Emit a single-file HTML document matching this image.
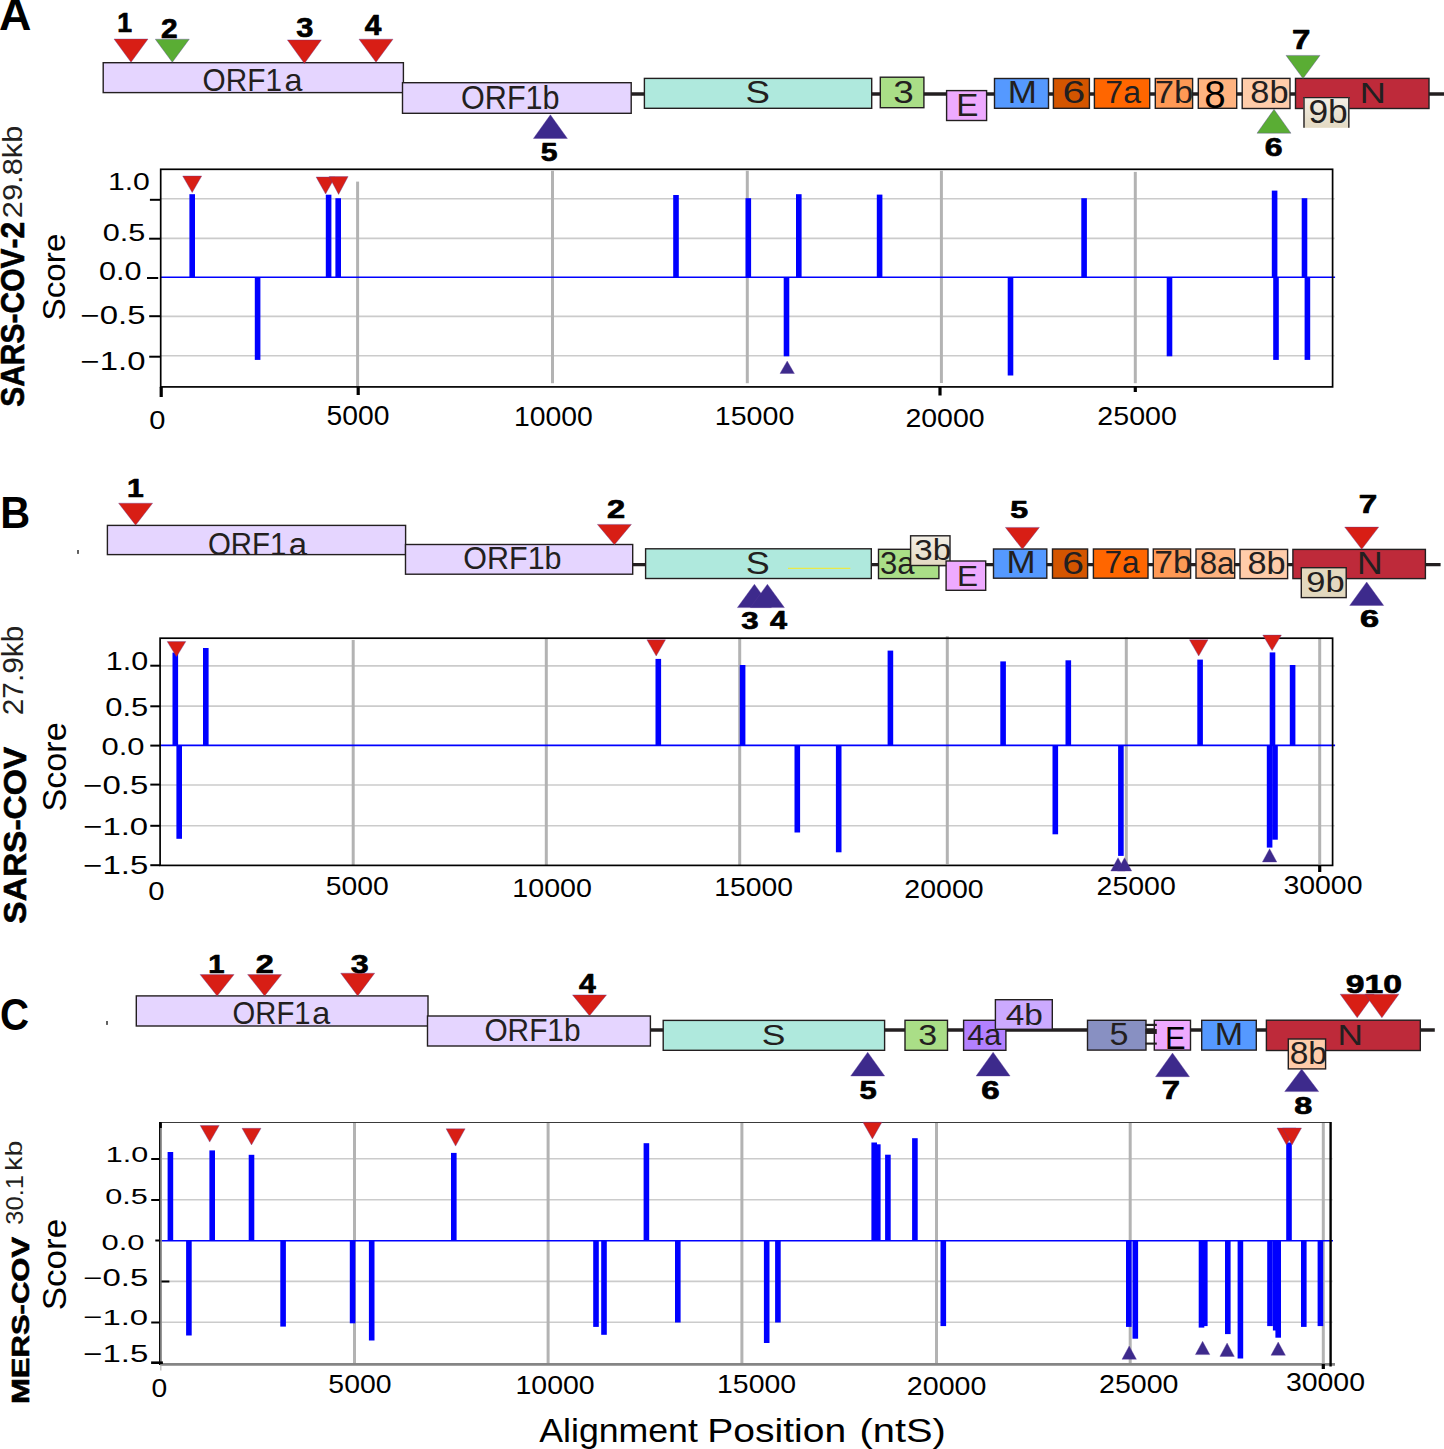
<!DOCTYPE html>
<html><head><meta charset="utf-8"><style>
html,body{margin:0;padding:0;background:#fff;width:1444px;height:1449px;overflow:hidden}
svg{display:block;font-family:"Liberation Sans", sans-serif;font-kerning:none}
</style></head><body>
<svg width="1444" height="1449" viewBox="0 0 1444 1449">
<defs><linearGradient id="beige" x1="0" y1="0" x2="0" y2="1"><stop offset="0" stop-color="#f3efe6"/><stop offset="1" stop-color="#e3d9c2"/></linearGradient></defs>
<rect width="1444" height="1449" fill="#fff"/>
<text x="-1.12" y="29.80" font-size="44.04" font-weight="bold" fill="#000" textLength="32.40" lengthAdjust="spacingAndGlyphs">A</text>
<text x="0.22" y="527.80" font-size="44.04" font-weight="bold" fill="#000" textLength="29.96" lengthAdjust="spacingAndGlyphs">B</text>
<text x="0.05" y="1030.47" font-size="43.64" font-weight="bold" fill="#000" textLength="29.05" lengthAdjust="spacingAndGlyphs">C</text>
<rect x="77.1" y="550" width="1.8" height="3.9" fill="#505050"/>
<rect x="106.1" y="1021" width="1.8" height="3.9" fill="#505050"/>
<line x1="403.00" y1="94.10" x2="1444.00" y2="94.10" stroke="#231f20" stroke-width="3.5"/>
<rect x="103.20" y="62.70" width="300.20" height="29.90" fill="#e5d5ff" stroke="#231f20" stroke-width="1.4"/>
<text x="202.59" y="90.99" font-size="31.78" fill="#231f20" textLength="79.36" lengthAdjust="spacingAndGlyphs">ORF1</text>
<text x="284.53" y="90.99" font-size="31.78" fill="#231f20" textLength="17.97" lengthAdjust="spacingAndGlyphs">a</text>
<rect x="402.50" y="82.70" width="228.70" height="30.60" fill="#e5d5ff" stroke="#231f20" stroke-width="1.4"/>
<text x="461.05" y="108.68" font-size="33.23" fill="#231f20" textLength="98.53" lengthAdjust="spacingAndGlyphs">ORF1b</text>
<rect x="644.40" y="78.40" width="227.30" height="29.90" fill="#afe9dd" stroke="#231f20" stroke-width="1.4"/>
<text x="745.44" y="103.40" font-size="30.51" fill="#231f20" textLength="24.45" lengthAdjust="spacingAndGlyphs">S</text>
<rect x="880.30" y="77.20" width="43.60" height="30.50" fill="#aade87" stroke="#231f20" stroke-width="1.4"/>
<text x="893.29" y="102.90" font-size="30.51" fill="#231f20" textLength="20.53" lengthAdjust="spacingAndGlyphs">3</text>
<rect x="946.60" y="90.60" width="40.00" height="29.90" fill="#eeaaff" stroke="#231f20" stroke-width="1.4"/>
<text x="956.28" y="115.80" font-size="31.25" fill="#231f20" textLength="22.15" lengthAdjust="spacingAndGlyphs">E</text>
<rect x="994.50" y="78.50" width="54.00" height="29.80" fill="#5599ff" stroke="#231f20" stroke-width="1.4"/>
<text x="1007.83" y="103.20" font-size="31.40" fill="#231f20" textLength="29.14" lengthAdjust="spacingAndGlyphs">M</text>
<rect x="1053.40" y="78.50" width="36.00" height="29.80" fill="#d45500" stroke="#231f20" stroke-width="1.4"/>
<text x="1062.62" y="103.39" font-size="31.78" fill="#231f20" textLength="22.78" lengthAdjust="spacingAndGlyphs">6</text>
<rect x="1094.40" y="78.50" width="55.30" height="29.80" fill="#ff6600" stroke="#231f20" stroke-width="1.4"/>
<text x="1105.36" y="103.39" font-size="32.25" fill="#231f20" textLength="35.54" lengthAdjust="spacingAndGlyphs">7a</text>
<rect x="1155.30" y="78.50" width="37.30" height="29.80" fill="#ff9955" stroke="#231f20" stroke-width="1.4"/>
<text x="1154.73" y="103.39" font-size="31.86" fill="#231f20" textLength="38.42" lengthAdjust="spacingAndGlyphs">7b</text>
<rect x="1198.30" y="78.50" width="38.40" height="29.80" fill="#ffb380" stroke="#231f20" stroke-width="1.4"/>
<text x="1204.32" y="107.83" font-size="38.14" fill="#000" textLength="21.45" lengthAdjust="spacingAndGlyphs">8</text>
<rect x="1242.20" y="78.40" width="47.80" height="30.10" fill="#ffccaa" stroke="#231f20" stroke-width="1.4"/>
<text x="1250.31" y="102.90" font-size="30.91" fill="#231f20" textLength="38.24" lengthAdjust="spacingAndGlyphs">8b</text>
<rect x="1295.50" y="78.40" width="133.50" height="30.10" fill="#be2a3a" stroke="#231f20" stroke-width="1.4"/>
<text x="1359.83" y="102.80" font-size="30.38" fill="#231f20" textLength="26.12" lengthAdjust="spacingAndGlyphs">N</text>
<rect x="1303.7" y="97.3" width="45.4" height="30.5" fill="url(#beige)"/>
<line x1="1303.00" y1="97.60" x2="1349.80" y2="97.60" stroke="#231f20" stroke-width="1.3"/>
<line x1="1304.00" y1="97.00" x2="1304.00" y2="127.80" stroke="#3a3636" stroke-width="1.6"/>
<line x1="1348.80" y1="97.00" x2="1348.80" y2="127.80" stroke="#3a3636" stroke-width="1.6"/>
<text x="1308.44" y="122.68" font-size="32.41" fill="#231f20" textLength="39.34" lengthAdjust="spacingAndGlyphs">9b</text>
<polygon points="114.00,39.00 148.00,39.00 131.00,62.30" fill="#d81e15" stroke="#5b3a9a" stroke-width="0.6" stroke-opacity="0.6"/>
<polygon points="155.30,39.20 189.30,39.20 172.30,62.30" fill="#5aad34" stroke="#5b3a9a" stroke-width="0.6" stroke-opacity="0.6"/>
<polygon points="287.40,39.90 321.40,39.90 304.40,63.60" fill="#d81e15" stroke="#5b3a9a" stroke-width="0.6" stroke-opacity="0.6"/>
<polygon points="359.00,39.20 393.00,39.20 376.00,62.30" fill="#d81e15" stroke="#5b3a9a" stroke-width="0.6" stroke-opacity="0.6"/>
<polygon points="1286.00,55.40 1320.00,55.40 1303.00,78.60" fill="#5aad34" stroke="#5b3a9a" stroke-width="0.6" stroke-opacity="0.6"/>
<polygon points="533.40,138.50 567.40,138.50 550.40,114.80" fill="#3d2a8c" stroke="#5b3a9a" stroke-width="0.6" stroke-opacity="0.6"/>
<polygon points="1257.00,133.20 1291.00,133.20 1274.00,109.30" fill="#5aad34" stroke="#5b3a9a" stroke-width="0.6" stroke-opacity="0.6"/>
<line x1="405.00" y1="564.70" x2="1440.60" y2="564.70" stroke="#231f20" stroke-width="3.3"/>
<rect x="107.40" y="525.40" width="298.20" height="29.20" fill="#e5d5ff" stroke="#231f20" stroke-width="1.4"/>
<text x="207.91" y="555.20" font-size="31.21" fill="#231f20" textLength="78.53" lengthAdjust="spacingAndGlyphs">ORF1</text>
<text x="288.80" y="555.20" font-size="31.21" fill="#231f20" textLength="18.30" lengthAdjust="spacingAndGlyphs">a</text>
<rect x="405.50" y="544.50" width="227.20" height="29.70" fill="#e5d5ff" stroke="#231f20" stroke-width="1.4"/>
<text x="463.36" y="569.40" font-size="31.18" fill="#231f20" textLength="98.22" lengthAdjust="spacingAndGlyphs">ORF1b</text>
<rect x="645.60" y="548.80" width="225.70" height="29.70" fill="#afe9dd" stroke="#231f20" stroke-width="1.4"/>
<text x="745.87" y="573.80" font-size="30.51" fill="#231f20" textLength="23.98" lengthAdjust="spacingAndGlyphs">S</text>
<line x1="788.00" y1="568.40" x2="850.30" y2="568.40" stroke="#e9e94a" stroke-width="1.3"/>
<rect x="878.50" y="549.30" width="60.40" height="29.30" fill="#aade87" stroke="#231f20" stroke-width="1.4"/>
<text x="880.02" y="573.80" font-size="30.51" fill="#231f20" textLength="34.58" lengthAdjust="spacingAndGlyphs">3a</text>
<rect x="910.60" y="535.80" width="39.40" height="29.70" fill="url(#beige)" stroke="#231f20" stroke-width="1.4"/>
<text x="914.24" y="560.31" font-size="29.41" fill="#231f20" textLength="36.85" lengthAdjust="spacingAndGlyphs">3b</text>
<rect x="946.10" y="561.00" width="39.60" height="29.30" fill="#eeaaff" stroke="#231f20" stroke-width="1.4"/>
<text x="957.01" y="585.80" font-size="30.09" fill="#231f20" textLength="21.04" lengthAdjust="spacingAndGlyphs">E</text>
<rect x="993.50" y="549.00" width="53.30" height="29.20" fill="#5599ff" stroke="#231f20" stroke-width="1.4"/>
<text x="1006.43" y="573.30" font-size="30.67" fill="#231f20" textLength="29.14" lengthAdjust="spacingAndGlyphs">M</text>
<rect x="1052.50" y="549.00" width="35.10" height="29.20" fill="#d45500" stroke="#231f20" stroke-width="1.4"/>
<text x="1062.22" y="573.50" font-size="31.21" fill="#231f20" textLength="21.70" lengthAdjust="spacingAndGlyphs">6</text>
<rect x="1093.40" y="549.00" width="54.60" height="29.20" fill="#ff6600" stroke="#231f20" stroke-width="1.4"/>
<text x="1104.38" y="573.49" font-size="31.67" fill="#231f20" textLength="35.12" lengthAdjust="spacingAndGlyphs">7a</text>
<rect x="1153.30" y="549.00" width="37.30" height="29.20" fill="#ff9955" stroke="#231f20" stroke-width="1.4"/>
<text x="1154.27" y="573.49" font-size="31.32" fill="#231f20" textLength="37.44" lengthAdjust="spacingAndGlyphs">7b</text>
<rect x="1196.00" y="549.00" width="38.70" height="29.20" fill="#ffb380" stroke="#231f20" stroke-width="1.4"/>
<text x="1199.64" y="573.50" font-size="31.21" fill="#231f20" textLength="34.76" lengthAdjust="spacingAndGlyphs">8a</text>
<rect x="1240.00" y="549.40" width="47.60" height="29.20" fill="#ffccaa" stroke="#231f20" stroke-width="1.4"/>
<text x="1247.51" y="573.99" font-size="31.46" fill="#231f20" textLength="38.24" lengthAdjust="spacingAndGlyphs">8b</text>
<rect x="1292.90" y="549.40" width="132.50" height="29.20" fill="#be2a3a" stroke="#231f20" stroke-width="1.4"/>
<text x="1356.98" y="573.90" font-size="31.54" fill="#231f20" textLength="25.73" lengthAdjust="spacingAndGlyphs">N</text>
<rect x="1301.30" y="567.70" width="44.90" height="29.90" fill="#e3d9bf" stroke="#231f20" stroke-width="1.4"/>
<text x="1306.38" y="592.30" font-size="30.37" fill="#231f20" textLength="38.37" lengthAdjust="spacingAndGlyphs">9b</text>
<polygon points="118.60,503.20 152.60,503.20 135.60,525.20" fill="#d81e15" stroke="#5b3a9a" stroke-width="0.6" stroke-opacity="0.6"/>
<polygon points="597.40,524.40 631.40,524.40 614.40,544.80" fill="#d81e15" stroke="#5b3a9a" stroke-width="0.6" stroke-opacity="0.6"/>
<polygon points="1005.40,527.40 1039.40,527.40 1022.40,549.30" fill="#d81e15" stroke="#5b3a9a" stroke-width="0.6" stroke-opacity="0.6"/>
<polygon points="1344.70,527.10 1378.70,527.10 1361.70,549.30" fill="#d81e15" stroke="#5b3a9a" stroke-width="0.6" stroke-opacity="0.6"/>
<polygon points="737.40,607.60 771.40,607.60 754.40,584.20" fill="#3d2a8c" stroke="#5b3a9a" stroke-width="0.6" stroke-opacity="0.6"/>
<polygon points="750.40,607.60 784.40,607.60 767.40,584.20" fill="#3d2a8c" stroke="#5b3a9a" stroke-width="0.6" stroke-opacity="0.6"/>
<polygon points="1349.70,605.50 1383.70,605.50 1366.70,582.00" fill="#3d2a8c" stroke="#5b3a9a" stroke-width="0.6" stroke-opacity="0.6"/>
<line x1="428.00" y1="1030.00" x2="1434.80" y2="1030.00" stroke="#231f20" stroke-width="3.3"/>
<rect x="136.30" y="995.90" width="291.70" height="30.10" fill="#e5d5ff" stroke="#231f20" stroke-width="1.4"/>
<text x="232.62" y="1024.29" font-size="31.64" fill="#231f20" textLength="77.91" lengthAdjust="spacingAndGlyphs">ORF1</text>
<text x="312.23" y="1024.29" font-size="31.64" fill="#231f20" textLength="17.97" lengthAdjust="spacingAndGlyphs">a</text>
<rect x="427.50" y="1016.00" width="222.90" height="30.00" fill="#e5d5ff" stroke="#231f20" stroke-width="1.4"/>
<text x="484.39" y="1041.19" font-size="31.86" fill="#231f20" textLength="96.17" lengthAdjust="spacingAndGlyphs">ORF1b</text>
<rect x="663.20" y="1020.40" width="221.40" height="29.90" fill="#afe9dd" stroke="#231f20" stroke-width="1.4"/>
<text x="761.69" y="1045.20" font-size="30.37" fill="#231f20" textLength="23.64" lengthAdjust="spacingAndGlyphs">S</text>
<rect x="905.00" y="1020.30" width="42.50" height="30.00" fill="#aade87" stroke="#231f20" stroke-width="1.4"/>
<text x="918.31" y="1044.51" font-size="29.38" fill="#231f20" textLength="18.89" lengthAdjust="spacingAndGlyphs">3</text>
<rect x="963.60" y="1020.30" width="42.30" height="30.00" fill="#b380ff" stroke="#231f20" stroke-width="1.4"/>
<text x="967.20" y="1044.51" font-size="29.81" fill="#231f20" textLength="34.00" lengthAdjust="spacingAndGlyphs">4a</text>
<rect x="995.40" y="999.70" width="56.90" height="29.60" fill="#ccaaff" stroke="#231f20" stroke-width="1.4"/>
<text x="1005.73" y="1024.81" font-size="29.28" fill="#231f20" textLength="37.17" lengthAdjust="spacingAndGlyphs">4b</text>
<rect x="1087.50" y="1020.30" width="58.50" height="29.80" fill="#8890c2" stroke="#231f20" stroke-width="1.4"/>
<text x="1109.53" y="1044.99" font-size="31.67" fill="#231f20" textLength="19.00" lengthAdjust="spacingAndGlyphs">5</text>
<rect x="1154.30" y="1020.30" width="36.20" height="29.80" fill="#eeaaff" stroke="#231f20" stroke-width="1.4"/>
<text x="1164.97" y="1049.20" font-size="32.12" fill="#000" textLength="20.55" lengthAdjust="spacingAndGlyphs">E</text>
<line x1="1145.50" y1="1024.90" x2="1156.80" y2="1024.90" stroke="#231f20" stroke-width="2.2"/>
<line x1="1145.50" y1="1031.50" x2="1156.80" y2="1031.50" stroke="#231f20" stroke-width="4.9"/>
<line x1="1145.50" y1="1043.60" x2="1156.80" y2="1043.60" stroke="#231f20" stroke-width="2.1"/>
<rect x="1201.70" y="1020.30" width="54.60" height="29.80" fill="#5599ff" stroke="#231f20" stroke-width="1.4"/>
<text x="1214.70" y="1045.30" font-size="31.25" fill="#231f20" textLength="28.39" lengthAdjust="spacingAndGlyphs">M</text>
<rect x="1266.40" y="1020.20" width="153.90" height="30.30" fill="#be2a3a" stroke="#231f20" stroke-width="1.4"/>
<text x="1337.41" y="1044.70" font-size="30.38" fill="#231f20" textLength="25.47" lengthAdjust="spacingAndGlyphs">N</text>
<rect x="1288.30" y="1039.00" width="37.30" height="29.90" fill="#ffccaa" stroke="#231f20" stroke-width="1.4"/>
<text x="1289.74" y="1063.90" font-size="30.77" fill="#231f20" textLength="37.26" lengthAdjust="spacingAndGlyphs">8b</text>
<polygon points="200.10,974.60 234.10,974.60 217.10,995.90" fill="#d81e15" stroke="#5b3a9a" stroke-width="0.6" stroke-opacity="0.6"/>
<polygon points="247.60,974.60 281.60,974.60 264.60,995.90" fill="#d81e15" stroke="#5b3a9a" stroke-width="0.6" stroke-opacity="0.6"/>
<polygon points="340.70,973.20 374.70,973.20 357.70,995.90" fill="#d81e15" stroke="#5b3a9a" stroke-width="0.6" stroke-opacity="0.6"/>
<polygon points="572.50,994.90 606.50,994.90 589.50,1015.80" fill="#d81e15" stroke="#5b3a9a" stroke-width="0.6" stroke-opacity="0.6"/>
<polygon points="1340.20,994.20 1374.20,994.20 1357.20,1017.80" fill="#d81e15" stroke="#5b3a9a" stroke-width="0.6" stroke-opacity="0.6"/>
<polygon points="1364.90,994.20 1398.90,994.20 1381.90,1017.80" fill="#d81e15" stroke="#5b3a9a" stroke-width="0.6" stroke-opacity="0.6"/>
<polygon points="850.70,1076.00 884.70,1076.00 867.70,1052.20" fill="#3d2a8c" stroke="#5b3a9a" stroke-width="0.6" stroke-opacity="0.6"/>
<polygon points="976.10,1076.00 1010.10,1076.00 993.10,1052.20" fill="#3d2a8c" stroke="#5b3a9a" stroke-width="0.6" stroke-opacity="0.6"/>
<polygon points="1155.50,1076.70 1189.50,1076.70 1172.50,1053.00" fill="#3d2a8c" stroke="#5b3a9a" stroke-width="0.6" stroke-opacity="0.6"/>
<polygon points="1284.70,1091.60 1318.70,1091.60 1301.70,1069.00" fill="#3d2a8c" stroke="#5b3a9a" stroke-width="0.6" stroke-opacity="0.6"/>
<g stroke="#000" stroke-width="0.7" stroke-linejoin="round">
<text x="117.22" y="31.90" font-size="27.76" font-weight="bold" fill="#000" textLength="14.82" lengthAdjust="spacingAndGlyphs">1</text>
<text x="161.06" y="37.70" font-size="27.78" font-weight="bold" fill="#000" textLength="16.63" lengthAdjust="spacingAndGlyphs">2</text>
<text x="296.19" y="36.68" font-size="28.33" font-weight="bold" fill="#000" textLength="17.12" lengthAdjust="spacingAndGlyphs">3</text>
<text x="364.65" y="34.60" font-size="28.78" font-weight="bold" fill="#000" textLength="16.61" lengthAdjust="spacingAndGlyphs">4</text>
<text x="540.67" y="161.25" font-size="25.80" font-weight="bold" fill="#000" textLength="16.77" lengthAdjust="spacingAndGlyphs">5</text>
<text x="1264.83" y="155.64" font-size="26.41" font-weight="bold" fill="#000" textLength="17.83" lengthAdjust="spacingAndGlyphs">6</text>
<text x="1291.98" y="49.40" font-size="27.47" font-weight="bold" fill="#000" textLength="18.37" lengthAdjust="spacingAndGlyphs">7</text>
<text x="127.10" y="497.20" font-size="25.73" font-weight="bold" fill="#000" textLength="16.73" lengthAdjust="spacingAndGlyphs">1</text>
<text x="607.07" y="517.90" font-size="25.06" font-weight="bold" fill="#000" textLength="18.14" lengthAdjust="spacingAndGlyphs">2</text>
<text x="741.18" y="628.82" font-size="24.67" font-weight="bold" fill="#000" textLength="17.34" lengthAdjust="spacingAndGlyphs">3</text>
<text x="769.94" y="629.10" font-size="25.44" font-weight="bold" fill="#000" textLength="17.03" lengthAdjust="spacingAndGlyphs">4</text>
<text x="1010.21" y="517.67" font-size="23.93" font-weight="bold" fill="#000" textLength="17.88" lengthAdjust="spacingAndGlyphs">5</text>
<text x="1359.94" y="626.57" font-size="23.45" font-weight="bold" fill="#000" textLength="19.10" lengthAdjust="spacingAndGlyphs">6</text>
<text x="1358.87" y="512.70" font-size="25.44" font-weight="bold" fill="#000" textLength="18.49" lengthAdjust="spacingAndGlyphs">7</text>
<text x="208.26" y="973.20" font-size="25.73" font-weight="bold" fill="#000" textLength="16.25" lengthAdjust="spacingAndGlyphs">1</text>
<text x="255.88" y="973.20" font-size="26.07" font-weight="bold" fill="#000" textLength="18.02" lengthAdjust="spacingAndGlyphs">2</text>
<text x="350.66" y="972.91" font-size="25.65" font-weight="bold" fill="#000" textLength="17.90" lengthAdjust="spacingAndGlyphs">3</text>
<text x="579.14" y="992.90" font-size="27.91" font-weight="bold" fill="#000" textLength="16.82" lengthAdjust="spacingAndGlyphs">4</text>
<text x="859.55" y="1098.85" font-size="26.08" font-weight="bold" fill="#000" textLength="17.21" lengthAdjust="spacingAndGlyphs">5</text>
<text x="981.39" y="1098.85" font-size="25.71" font-weight="bold" fill="#000" textLength="18.41" lengthAdjust="spacingAndGlyphs">6</text>
<text x="1161.89" y="1099.10" font-size="26.45" font-weight="bold" fill="#000" textLength="18.25" lengthAdjust="spacingAndGlyphs">7</text>
<text x="1294.37" y="1113.76" font-size="24.72" font-weight="bold" fill="#000" textLength="18.03" lengthAdjust="spacingAndGlyphs">8</text>
<text x="1345.83" y="992.65" font-size="25.99" font-weight="bold" fill="#000" textLength="56.15" lengthAdjust="spacingAndGlyphs">910</text>
</g>
<line x1="160.70" y1="198.70" x2="1334.60" y2="198.70" stroke="#cbcbcb" stroke-width="1.6"/>
<line x1="160.70" y1="238.40" x2="1334.60" y2="238.40" stroke="#cbcbcb" stroke-width="1.6"/>
<line x1="160.70" y1="316.40" x2="1334.60" y2="316.40" stroke="#cbcbcb" stroke-width="1.6"/>
<line x1="160.70" y1="355.80" x2="1334.60" y2="355.80" stroke="#cbcbcb" stroke-width="1.6"/>
<line x1="357.60" y1="181.60" x2="357.60" y2="386.00" stroke="#b3b3b3" stroke-width="3.0"/>
<line x1="552.50" y1="170.80" x2="552.50" y2="383.20" stroke="#b3b3b3" stroke-width="3.0"/>
<line x1="747.30" y1="170.80" x2="747.30" y2="383.20" stroke="#b3b3b3" stroke-width="3.0"/>
<line x1="941.40" y1="170.80" x2="941.40" y2="383.00" stroke="#b3b3b3" stroke-width="3.0"/>
<line x1="1135.30" y1="171.90" x2="1135.30" y2="383.20" stroke="#b3b3b3" stroke-width="3.0"/>
<line x1="160.70" y1="277.30" x2="1335.10" y2="277.30" stroke="#0000ff" stroke-width="1.6"/>
<rect x="189.40" y="194.20" width="5.6" height="83.10" fill="#0000ff"/>
<rect x="325.80" y="194.70" width="5.6" height="82.60" fill="#0000ff"/>
<rect x="335.40" y="198.20" width="5.6" height="79.10" fill="#0000ff"/>
<rect x="673.20" y="195.00" width="5.6" height="82.30" fill="#0000ff"/>
<rect x="745.50" y="198.20" width="5.6" height="79.10" fill="#0000ff"/>
<rect x="796.00" y="194.20" width="5.6" height="83.10" fill="#0000ff"/>
<rect x="876.80" y="194.60" width="5.6" height="82.70" fill="#0000ff"/>
<rect x="1081.30" y="198.20" width="5.6" height="79.10" fill="#0000ff"/>
<rect x="1271.80" y="190.60" width="5.6" height="86.70" fill="#0000ff"/>
<rect x="1301.70" y="198.20" width="5.6" height="79.10" fill="#0000ff"/>
<rect x="254.80" y="277.30" width="5.6" height="82.60" fill="#0000ff"/>
<rect x="783.70" y="277.30" width="5.6" height="79.00" fill="#0000ff"/>
<rect x="1007.70" y="277.30" width="5.6" height="98.20" fill="#0000ff"/>
<rect x="1166.70" y="277.30" width="5.6" height="79.00" fill="#0000ff"/>
<rect x="1273.20" y="277.30" width="5.6" height="82.60" fill="#0000ff"/>
<rect x="1304.60" y="277.30" width="5.6" height="82.60" fill="#0000ff"/>
<rect x="160.70" y="169.30" width="1171.90" height="217.60" fill="none" stroke="#000" stroke-width="1.7"/>
<line x1="149.90" y1="199.80" x2="160.70" y2="199.80" stroke="#000" stroke-width="2"/>
<line x1="149.10" y1="238.70" x2="160.70" y2="238.70" stroke="#000" stroke-width="2"/>
<line x1="147.00" y1="278.00" x2="158.20" y2="278.00" stroke="#000" stroke-width="2"/>
<line x1="149.20" y1="316.20" x2="161.00" y2="316.20" stroke="#000" stroke-width="2"/>
<line x1="149.20" y1="356.70" x2="161.00" y2="356.70" stroke="#000" stroke-width="2"/>
<line x1="161.20" y1="386.90" x2="161.20" y2="397.00" stroke="#000" stroke-width="3.2"/>
<line x1="358.20" y1="386.90" x2="358.20" y2="395.00" stroke="#000" stroke-width="3.2"/>
<line x1="940.00" y1="386.90" x2="940.00" y2="395.50" stroke="#000" stroke-width="3.2"/>
<line x1="1135.30" y1="386.90" x2="1135.30" y2="392.00" stroke="#000" stroke-width="3.2"/>
<polygon points="182.70,176.00 201.70,176.00 192.20,192.60" fill="#d81e15" stroke="#5b3a9a" stroke-width="0.6" stroke-opacity="0.6"/>
<polygon points="316.10,177.00 335.10,177.00 325.60,194.00" fill="#d81e15" stroke="#5b3a9a" stroke-width="0.6" stroke-opacity="0.6"/>
<polygon points="329.10,176.60 348.10,176.60 338.60,194.40" fill="#d81e15" stroke="#5b3a9a" stroke-width="0.6" stroke-opacity="0.6"/>
<polygon points="780.00,373.50 794.40,373.50 787.20,361.00" fill="#3d2a8c" stroke="#5b3a9a" stroke-width="0.6" stroke-opacity="0.6"/>
<line x1="160.10" y1="665.90" x2="1334.60" y2="665.90" stroke="#cbcbcb" stroke-width="1.6"/>
<line x1="160.10" y1="706.10" x2="1334.60" y2="706.10" stroke="#cbcbcb" stroke-width="1.6"/>
<line x1="160.10" y1="785.00" x2="1334.60" y2="785.00" stroke="#cbcbcb" stroke-width="1.6"/>
<line x1="160.10" y1="825.80" x2="1334.60" y2="825.80" stroke="#cbcbcb" stroke-width="1.6"/>
<line x1="353.20" y1="640.00" x2="353.20" y2="865.00" stroke="#b3b3b3" stroke-width="3.0"/>
<line x1="546.30" y1="638.00" x2="546.30" y2="865.00" stroke="#b3b3b3" stroke-width="3.0"/>
<line x1="739.70" y1="638.00" x2="739.70" y2="865.00" stroke="#b3b3b3" stroke-width="3.0"/>
<line x1="947.30" y1="636.20" x2="947.30" y2="864.00" stroke="#b3b3b3" stroke-width="3.0"/>
<line x1="1126.30" y1="637.30" x2="1126.30" y2="865.00" stroke="#b3b3b3" stroke-width="3.0"/>
<line x1="1319.70" y1="639.00" x2="1319.70" y2="864.00" stroke="#b3b3b3" stroke-width="3.0"/>
<line x1="160.10" y1="745.40" x2="1335.10" y2="745.40" stroke="#0000ff" stroke-width="1.6"/>
<rect x="172.50" y="652.60" width="5.6" height="92.80" fill="#0000ff"/>
<rect x="203.00" y="648.00" width="5.6" height="97.40" fill="#0000ff"/>
<rect x="655.50" y="658.90" width="5.6" height="86.50" fill="#0000ff"/>
<rect x="739.80" y="665.00" width="5.6" height="80.40" fill="#0000ff"/>
<rect x="887.60" y="650.60" width="5.6" height="94.80" fill="#0000ff"/>
<rect x="1000.30" y="661.40" width="5.6" height="84.00" fill="#0000ff"/>
<rect x="1065.50" y="660.30" width="5.6" height="85.10" fill="#0000ff"/>
<rect x="1197.30" y="659.60" width="5.6" height="85.80" fill="#0000ff"/>
<rect x="1269.70" y="652.40" width="5.6" height="93.00" fill="#0000ff"/>
<rect x="1289.80" y="665.00" width="5.6" height="80.40" fill="#0000ff"/>
<rect x="176.40" y="745.40" width="5.6" height="93.40" fill="#0000ff"/>
<rect x="794.50" y="745.40" width="5.6" height="87.10" fill="#0000ff"/>
<rect x="835.90" y="745.40" width="5.6" height="106.90" fill="#0000ff"/>
<rect x="1052.50" y="745.40" width="5.6" height="88.90" fill="#0000ff"/>
<rect x="1118.10" y="745.40" width="5.6" height="110.50" fill="#0000ff"/>
<rect x="1266.80" y="745.40" width="5.6" height="102.20" fill="#0000ff"/>
<rect x="1272.20" y="745.40" width="5.6" height="94.30" fill="#0000ff"/>
<rect x="160.10" y="638.20" width="1172.50" height="227.20" fill="none" stroke="#000" stroke-width="1.7"/>
<line x1="150.30" y1="665.70" x2="160.00" y2="665.70" stroke="#000" stroke-width="2"/>
<line x1="150.30" y1="706.30" x2="160.00" y2="706.30" stroke="#000" stroke-width="2"/>
<line x1="150.30" y1="745.60" x2="160.00" y2="745.60" stroke="#000" stroke-width="2"/>
<line x1="150.30" y1="784.60" x2="160.00" y2="784.60" stroke="#000" stroke-width="2"/>
<line x1="150.30" y1="825.80" x2="160.00" y2="825.80" stroke="#000" stroke-width="2"/>
<line x1="150.30" y1="865.20" x2="160.00" y2="865.20" stroke="#000" stroke-width="2"/>
<line x1="1319.70" y1="865.40" x2="1319.70" y2="872.00" stroke="#000" stroke-width="3.2"/>
<polygon points="167.20,641.60 185.80,641.60 176.50,656.80" fill="#d81e15" stroke="#5b3a9a" stroke-width="0.6" stroke-opacity="0.6"/>
<polygon points="646.90,639.80 665.50,639.80 656.20,656.00" fill="#d81e15" stroke="#5b3a9a" stroke-width="0.6" stroke-opacity="0.6"/>
<polygon points="1189.40,639.80 1208.00,639.80 1198.70,656.00" fill="#d81e15" stroke="#5b3a9a" stroke-width="0.6" stroke-opacity="0.6"/>
<polygon points="1262.80,635.10 1281.40,635.10 1272.10,650.60" fill="#d81e15" stroke="#5b3a9a" stroke-width="0.6" stroke-opacity="0.6"/>
<polygon points="1110.80,871.00 1125.20,871.00 1118.00,857.70" fill="#3d2a8c" stroke="#5b3a9a" stroke-width="0.6" stroke-opacity="0.6"/>
<polygon points="1117.30,871.00 1131.70,871.00 1124.50,857.70" fill="#3d2a8c" stroke="#5b3a9a" stroke-width="0.6" stroke-opacity="0.6"/>
<polygon points="1262.40,862.00 1276.80,862.00 1269.60,848.70" fill="#3d2a8c" stroke="#5b3a9a" stroke-width="0.6" stroke-opacity="0.6"/>
<line x1="160.10" y1="1158.70" x2="1332.50" y2="1158.70" stroke="#cbcbcb" stroke-width="1.6"/>
<line x1="160.10" y1="1199.70" x2="1332.50" y2="1199.70" stroke="#cbcbcb" stroke-width="1.6"/>
<line x1="160.10" y1="1281.40" x2="1332.50" y2="1281.40" stroke="#cbcbcb" stroke-width="1.6"/>
<line x1="160.10" y1="1322.20" x2="1332.50" y2="1322.20" stroke="#cbcbcb" stroke-width="1.6"/>
<line x1="354.50" y1="1123.00" x2="354.50" y2="1364.00" stroke="#b3b3b3" stroke-width="3.0"/>
<line x1="548.10" y1="1123.00" x2="548.10" y2="1364.00" stroke="#b3b3b3" stroke-width="3.0"/>
<line x1="741.90" y1="1123.00" x2="741.90" y2="1364.00" stroke="#b3b3b3" stroke-width="3.0"/>
<line x1="936.50" y1="1123.00" x2="936.50" y2="1364.00" stroke="#b3b3b3" stroke-width="3.0"/>
<line x1="1130.20" y1="1123.00" x2="1130.20" y2="1364.00" stroke="#b3b3b3" stroke-width="3.0"/>
<line x1="1323.30" y1="1123.00" x2="1323.30" y2="1364.00" stroke="#b3b3b3" stroke-width="3.0"/>
<line x1="160.10" y1="1240.70" x2="1333.00" y2="1240.70" stroke="#0000ff" stroke-width="1.6"/>
<rect x="167.60" y="1152.00" width="5.6" height="88.70" fill="#0000ff"/>
<rect x="209.40" y="1150.40" width="5.6" height="90.30" fill="#0000ff"/>
<rect x="248.70" y="1154.80" width="5.6" height="85.90" fill="#0000ff"/>
<rect x="451.00" y="1152.90" width="5.6" height="87.80" fill="#0000ff"/>
<rect x="643.60" y="1143.20" width="5.6" height="97.50" fill="#0000ff"/>
<rect x="871.40" y="1142.50" width="5.6" height="98.20" fill="#0000ff"/>
<rect x="875.00" y="1144.30" width="5.6" height="96.40" fill="#0000ff"/>
<rect x="885.10" y="1154.70" width="5.6" height="86.00" fill="#0000ff"/>
<rect x="912.10" y="1138.20" width="5.6" height="102.50" fill="#0000ff"/>
<rect x="1286.20" y="1142.50" width="5.6" height="98.20" fill="#0000ff"/>
<rect x="186.10" y="1240.70" width="5.6" height="94.80" fill="#0000ff"/>
<rect x="280.30" y="1240.70" width="5.6" height="85.90" fill="#0000ff"/>
<rect x="349.80" y="1240.70" width="5.6" height="82.60" fill="#0000ff"/>
<rect x="368.90" y="1240.70" width="5.6" height="99.80" fill="#0000ff"/>
<rect x="593.20" y="1240.70" width="5.6" height="86.20" fill="#0000ff"/>
<rect x="601.20" y="1240.70" width="5.6" height="94.10" fill="#0000ff"/>
<rect x="675.00" y="1240.70" width="5.6" height="81.80" fill="#0000ff"/>
<rect x="763.90" y="1240.70" width="5.6" height="102.30" fill="#0000ff"/>
<rect x="775.10" y="1240.70" width="5.6" height="81.80" fill="#0000ff"/>
<rect x="940.50" y="1240.70" width="5.6" height="85.40" fill="#0000ff"/>
<rect x="1126.00" y="1240.70" width="5.6" height="86.20" fill="#0000ff"/>
<rect x="1132.50" y="1240.70" width="5.6" height="98.00" fill="#0000ff"/>
<rect x="1198.70" y="1240.70" width="5.6" height="86.90" fill="#0000ff"/>
<rect x="1202.00" y="1240.70" width="5.6" height="85.40" fill="#0000ff"/>
<rect x="1225.00" y="1240.70" width="5.6" height="93.40" fill="#0000ff"/>
<rect x="1237.60" y="1240.70" width="5.6" height="117.80" fill="#0000ff"/>
<rect x="1267.20" y="1240.70" width="5.6" height="85.40" fill="#0000ff"/>
<rect x="1272.90" y="1240.70" width="5.6" height="89.80" fill="#0000ff"/>
<rect x="1275.40" y="1240.70" width="5.6" height="97.00" fill="#0000ff"/>
<rect x="1301.00" y="1240.70" width="5.6" height="86.20" fill="#0000ff"/>
<rect x="1317.60" y="1240.70" width="5.6" height="85.40" fill="#0000ff"/>
<line x1="160.10" y1="1122.50" x2="1331.00" y2="1122.50" stroke="#3a3a3a" stroke-width="1.2"/>
<line x1="160.10" y1="1364.30" x2="1335.00" y2="1364.30" stroke="#858585" stroke-width="2.8"/>
<line x1="161.05" y1="1122.00" x2="161.05" y2="1364.00" stroke="#8c8c8c" stroke-width="1.7"/>
<line x1="159.65" y1="1122.00" x2="159.65" y2="1365.00" stroke="#000" stroke-width="1.2"/>
<line x1="160.60" y1="1122.00" x2="160.60" y2="1128.00" stroke="#000" stroke-width="2.5"/>
<line x1="1330.60" y1="1122.00" x2="1330.60" y2="1366.50" stroke="#000" stroke-width="2.4"/>
<line x1="151.20" y1="1159.00" x2="159.40" y2="1159.00" stroke="#000" stroke-width="2"/>
<line x1="151.20" y1="1200.00" x2="159.40" y2="1200.00" stroke="#000" stroke-width="2"/>
<line x1="155.30" y1="1240.50" x2="159.40" y2="1240.50" stroke="#000" stroke-width="2"/>
<line x1="151.20" y1="1322.50" x2="159.40" y2="1322.50" stroke="#000" stroke-width="2"/>
<line x1="151.10" y1="1362.70" x2="162.90" y2="1362.70" stroke="#000" stroke-width="2.6"/>
<line x1="1323.30" y1="1364.00" x2="1323.30" y2="1369.00" stroke="#000" stroke-width="3.2"/>
<polygon points="200.20,1125.50 219.20,1125.50 209.70,1142.10" fill="#d81e15" stroke="#5b3a9a" stroke-width="0.6" stroke-opacity="0.6"/>
<polygon points="242.00,1128.30 261.00,1128.30 251.50,1144.90" fill="#d81e15" stroke="#5b3a9a" stroke-width="0.6" stroke-opacity="0.6"/>
<polygon points="446.10,1128.80 465.10,1128.80 455.60,1146.10" fill="#d81e15" stroke="#5b3a9a" stroke-width="0.6" stroke-opacity="0.6"/>
<polygon points="862.90,1122.30 881.90,1122.30 872.40,1138.90" fill="#d81e15" stroke="#5b3a9a" stroke-width="0.6" stroke-opacity="0.6"/>
<polygon points="1277.00,1128.00 1296.00,1128.00 1286.50,1145.00" fill="#d81e15" stroke="#5b3a9a" stroke-width="0.6" stroke-opacity="0.6"/>
<polygon points="1282.50,1128.00 1301.50,1128.00 1292.00,1145.00" fill="#d81e15" stroke="#5b3a9a" stroke-width="0.6" stroke-opacity="0.6"/>
<polygon points="1122.00,1359.30 1136.40,1359.30 1129.20,1346.00" fill="#3d2a8c" stroke="#5b3a9a" stroke-width="0.6" stroke-opacity="0.6"/>
<polygon points="1195.40,1354.60 1209.80,1354.60 1202.60,1341.30" fill="#3d2a8c" stroke="#5b3a9a" stroke-width="0.6" stroke-opacity="0.6"/>
<polygon points="1219.90,1356.40 1234.30,1356.40 1227.10,1343.00" fill="#3d2a8c" stroke="#5b3a9a" stroke-width="0.6" stroke-opacity="0.6"/>
<polygon points="1271.00,1355.30 1285.40,1355.30 1278.20,1342.00" fill="#3d2a8c" stroke="#5b3a9a" stroke-width="0.6" stroke-opacity="0.6"/>
<line x1="161.50" y1="1281.50" x2="169.40" y2="1281.50" stroke="#000" stroke-width="2"/>
<line x1="160.80" y1="1365.50" x2="160.80" y2="1370.50" stroke="#c0c0c0" stroke-width="1.4"/>
<text x="107.90" y="190.46" font-size="24.58" fill="#000" textLength="41.98" lengthAdjust="spacingAndGlyphs">1.0</text>
<text x="102.80" y="240.56" font-size="24.58" fill="#000" textLength="42.58" lengthAdjust="spacingAndGlyphs">0.5</text>
<text x="99.00" y="279.85" font-size="25.14" fill="#000" textLength="42.59" lengthAdjust="spacingAndGlyphs">0.0</text>
<text x="80.58" y="323.75" font-size="25.28" fill="#000" textLength="65.01" lengthAdjust="spacingAndGlyphs">−0.5</text>
<text x="80.58" y="369.85" font-size="25.14" fill="#000" textLength="64.91" lengthAdjust="spacingAndGlyphs">−1.0</text>
<text x="149.26" y="429.34" font-size="26.41" fill="#000" textLength="16.17" lengthAdjust="spacingAndGlyphs">0</text>
<text x="326.47" y="424.74" font-size="26.98" fill="#000" textLength="62.94" lengthAdjust="spacingAndGlyphs">5000</text>
<text x="514.04" y="426.34" font-size="26.98" fill="#000" textLength="78.87" lengthAdjust="spacingAndGlyphs">10000</text>
<text x="714.82" y="424.74" font-size="26.41" fill="#000" textLength="79.49" lengthAdjust="spacingAndGlyphs">15000</text>
<text x="905.47" y="427.45" font-size="25.85" fill="#000" textLength="79.14" lengthAdjust="spacingAndGlyphs">20000</text>
<text x="1097.36" y="424.74" font-size="26.41" fill="#000" textLength="79.45" lengthAdjust="spacingAndGlyphs">25000</text>
<text x="105.78" y="670.45" font-size="25.14" fill="#000" textLength="42.42" lengthAdjust="spacingAndGlyphs">1.0</text>
<text x="105.29" y="715.76" font-size="24.86" fill="#000" textLength="42.90" lengthAdjust="spacingAndGlyphs">0.5</text>
<text x="101.49" y="754.86" font-size="24.58" fill="#000" textLength="43.02" lengthAdjust="spacingAndGlyphs">0.0</text>
<text x="83.28" y="793.75" font-size="25.14" fill="#000" textLength="65.01" lengthAdjust="spacingAndGlyphs">−0.5</text>
<text x="83.28" y="835.16" font-size="24.58" fill="#000" textLength="64.91" lengthAdjust="spacingAndGlyphs">−1.0</text>
<text x="83.28" y="874.46" font-size="24.94" fill="#000" textLength="65.01" lengthAdjust="spacingAndGlyphs">−1.5</text>
<text x="148.16" y="899.85" font-size="25.56" fill="#000" textLength="16.29" lengthAdjust="spacingAndGlyphs">0</text>
<text x="325.87" y="895.35" font-size="25.85" fill="#000" textLength="62.94" lengthAdjust="spacingAndGlyphs">5000</text>
<text x="512.32" y="896.74" font-size="26.41" fill="#000" textLength="79.60" lengthAdjust="spacingAndGlyphs">10000</text>
<text x="714.35" y="895.74" font-size="26.41" fill="#000" textLength="78.66" lengthAdjust="spacingAndGlyphs">15000</text>
<text x="904.37" y="897.85" font-size="25.56" fill="#000" textLength="79.25" lengthAdjust="spacingAndGlyphs">20000</text>
<text x="1096.57" y="895.35" font-size="25.85" fill="#000" textLength="79.25" lengthAdjust="spacingAndGlyphs">25000</text>
<text x="1283.42" y="893.54" font-size="26.27" fill="#000" textLength="79.09" lengthAdjust="spacingAndGlyphs">30000</text>
<text x="105.78" y="1162.08" font-size="22.74" fill="#000" textLength="42.42" lengthAdjust="spacingAndGlyphs">1.0</text>
<text x="105.30" y="1204.18" font-size="22.60" fill="#000" textLength="42.58" lengthAdjust="spacingAndGlyphs">0.5</text>
<text x="101.49" y="1249.88" font-size="22.32" fill="#000" textLength="43.02" lengthAdjust="spacingAndGlyphs">0.0</text>
<text x="83.28" y="1286.27" font-size="23.45" fill="#000" textLength="65.01" lengthAdjust="spacingAndGlyphs">−0.5</text>
<text x="83.28" y="1324.78" font-size="22.88" fill="#000" textLength="64.91" lengthAdjust="spacingAndGlyphs">−1.0</text>
<text x="83.28" y="1361.57" font-size="23.79" fill="#000" textLength="65.01" lengthAdjust="spacingAndGlyphs">−1.5</text>
<text x="151.40" y="1397.45" font-size="25.85" fill="#000" textLength="15.71" lengthAdjust="spacingAndGlyphs">0</text>
<text x="328.36" y="1392.65" font-size="25.85" fill="#000" textLength="63.15" lengthAdjust="spacingAndGlyphs">5000</text>
<text x="515.53" y="1394.34" font-size="26.41" fill="#000" textLength="79.08" lengthAdjust="spacingAndGlyphs">10000</text>
<text x="717.03" y="1393.35" font-size="25.85" fill="#000" textLength="79.08" lengthAdjust="spacingAndGlyphs">15000</text>
<text x="906.86" y="1395.45" font-size="25.85" fill="#000" textLength="79.45" lengthAdjust="spacingAndGlyphs">20000</text>
<text x="1099.06" y="1392.75" font-size="25.85" fill="#000" textLength="79.45" lengthAdjust="spacingAndGlyphs">25000</text>
<text x="1285.92" y="1390.74" font-size="26.27" fill="#000" textLength="79.09" lengthAdjust="spacingAndGlyphs">30000</text>
<text x="539.33" y="1442.00" font-size="33.70" fill="#000" textLength="158.53" lengthAdjust="spacingAndGlyphs">Alignment</text>
<text x="707.30" y="1442.00" font-size="33.70" fill="#000" textLength="138.84" lengthAdjust="spacingAndGlyphs">Position</text>
<text x="859.43" y="1442.00" font-size="33.70" fill="#000" textLength="86.45" lengthAdjust="spacingAndGlyphs">(ntS)</text>
<g stroke="#000" stroke-width="0.6" stroke-linejoin="round">
<text transform="translate(24.08,406.00) rotate(-90)" x="-0.86" y="0" font-size="33.05" font-weight="bold" fill="#000" textLength="185.07" lengthAdjust="spacingAndGlyphs">SARS-COV-2</text>
</g>
<text transform="translate(22.33,216.70) rotate(-90)" x="-1.55" y="0" font-size="27.37" fill="#231f20" textLength="92.65" lengthAdjust="spacingAndGlyphs">29.8kb</text>
<text transform="translate(64.70,319.00) rotate(-90)" x="-1.51" y="0" font-size="31.07" fill="#000" textLength="86.99" lengthAdjust="spacingAndGlyphs">Score</text>
<g stroke="#000" stroke-width="0.6" stroke-linejoin="round">
<text transform="translate(25.80,922.70) rotate(-90)" x="-0.97" y="0" font-size="30.65" font-weight="bold" fill="#000" textLength="176.89" lengthAdjust="spacingAndGlyphs">SARS-COV</text>
</g>
<text transform="translate(22.52,713.80) rotate(-90)" x="-1.50" y="0" font-size="28.87" fill="#231f20" textLength="89.66" lengthAdjust="spacingAndGlyphs">27.9kb</text>
<text transform="translate(65.98,810.00) rotate(-90)" x="-1.55" y="0" font-size="32.77" fill="#000" textLength="89.27" lengthAdjust="spacingAndGlyphs">Score</text>
<g stroke="#000" stroke-width="0.6" stroke-linejoin="round">
<text transform="translate(28.77,1401.90) rotate(-90)" x="-2.07" y="0" font-size="23.45" font-weight="bold" fill="#000" textLength="167.09" lengthAdjust="spacingAndGlyphs">MERS-COV</text>
</g>
<text transform="translate(22.67,1223.70) rotate(-90)" x="-0.97" y="0" font-size="23.59" fill="#231f20" textLength="49.62" lengthAdjust="spacingAndGlyphs">30.1</text>
<text transform="translate(21.66,1169.00) rotate(-90)" x="-1.93" y="0" font-size="24.51" fill="#231f20" textLength="30.23" lengthAdjust="spacingAndGlyphs">kb</text>
<text transform="translate(65.97,1308.60) rotate(-90)" x="-1.59" y="0" font-size="33.62" fill="#000" textLength="91.24" lengthAdjust="spacingAndGlyphs">Score</text>
</svg>
</body></html>
